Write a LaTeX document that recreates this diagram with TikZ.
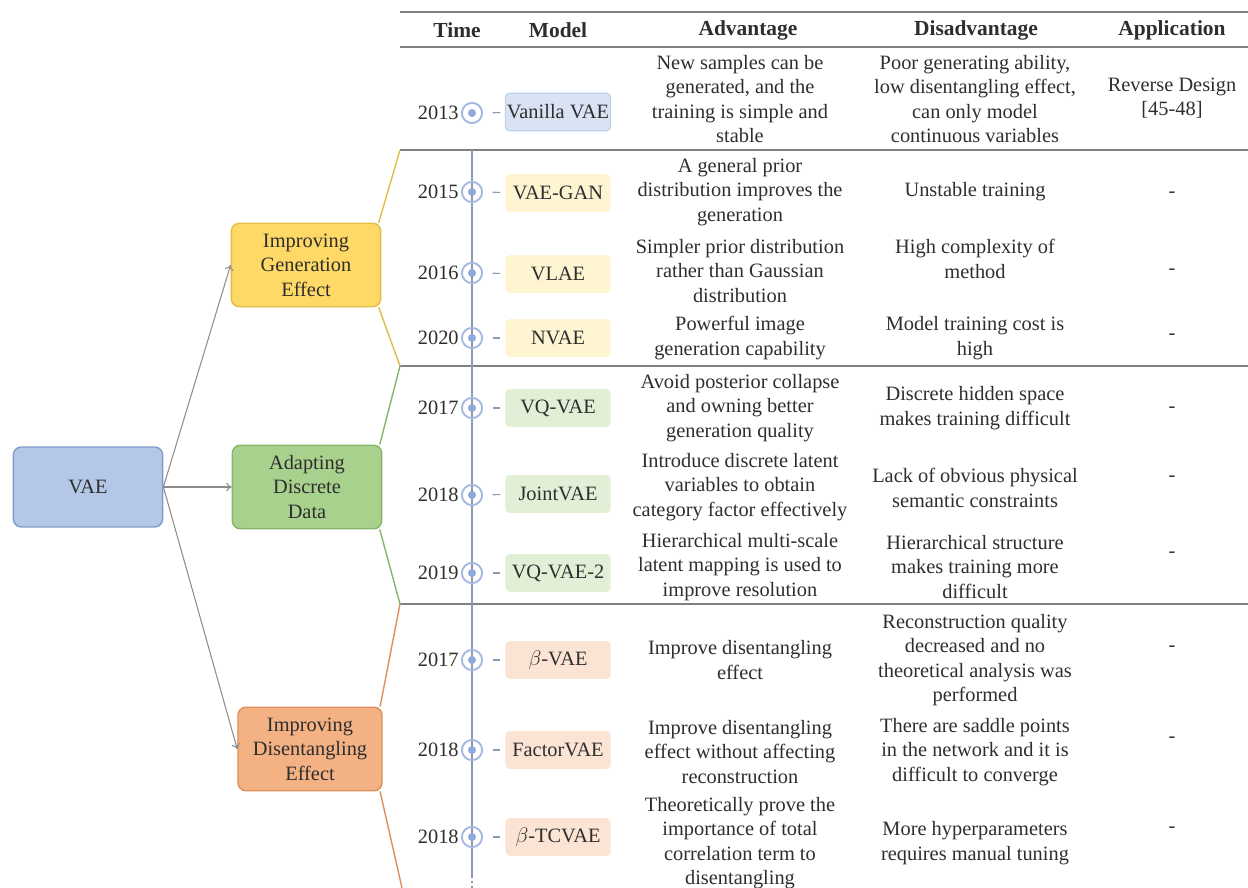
\documentclass[tikz,border=0pt]{standalone}
\usepackage{fontspec}
\setmainfont{Liberation Serif}
\usetikzlibrary{arrows.meta}

\definecolor{txt}{HTML}{2E2E2E}
\definecolor{rulegray}{HTML}{808080}
\definecolor{arrgray}{HTML}{8C8C8C}
\definecolor{vaefill}{HTML}{B4C7E7}
\definecolor{vaeedge}{HTML}{7F9ACB}
\definecolor{genfill}{HTML}{FFD966}
\definecolor{genedge}{HTML}{E2BC45}
\definecolor{disfill}{HTML}{A9D18E}
\definecolor{disedge}{HTML}{86B56A}
\definecolor{entfill}{HTML}{F4B183}
\definecolor{entedge}{HTML}{DE8F5E}
\definecolor{ringblue}{HTML}{A4B8E0}
\definecolor{dotblue}{HTML}{8EA9DB}
\definecolor{tlline}{HTML}{8C99B3}

\tikzset{
  catbox/.style={draw, line width=0.8pt, rounded corners=4.5pt, minimum width=85pt, minimum height=47.5pt, align=center, inner sep=1pt},
  modelbox/.style={rounded corners=2.5pt, minimum width=60pt, minimum height=21.5pt, inner sep=1pt, line width=0.5pt},
  ring/.style={circle, draw=ringblue, line width=1.1pt, minimum size=11.5pt, inner sep=0pt,
    path picture={\fill[dotblue] (path picture bounding box.center) circle (2.3pt);}},
  cell/.style={align=center, inner sep=0pt},
  head/.style={font=\fontsize{12.2}{14}\selectfont\bfseries},
  arr/.style={arrgray, line width=0.6pt, -{To[length=3pt, width=5pt]}},
  tick/.style={tlline, line width=0.6pt, shorten <=5.5pt, shorten >=2.5pt}
}

\begin{document}
\begin{tikzpicture}[x=0.02cm, y=-0.02cm, font=\fontsize{11.6}{13.9}\selectfont, text=txt]
    \useasboundingbox (0,0) rectangle (1248,888);

    \draw[rulegray, line width=1.1pt] (400,12) -- (1248,12);
    \draw[rulegray, line width=1.1pt] (400,47) -- (1248,47);
    \coordinate (r1) at (400,150); \coordinate (r2) at (400,366); \coordinate (r3) at (400,604);
    \coordinate (rend) at (402,888);
    \draw[rulegray, line width=1.3pt] (r1) -- (1248,150);
    \draw[rulegray, line width=1.3pt] (r2) -- (1248,366);
    \draw[rulegray, line width=1.3pt] (r3) -- (1248,604);

    \node[head] (hTime) at (457,30) {Time};
    \node[head] (hModel) at (558,30) {Model};
    \node[head] (hAdv) at (748,30) {Advantage};
    \node[head] (hDis) at (976,30) {Disadvantage};
    \node[head] (hApp) at (1172,30) {Application};

    % left tree
    \node[catbox, fill=vaefill, draw=vaeedge, minimum width=85pt, minimum height=45.5pt] (vae) at (88,487) {VAE};
    \node[catbox, fill=genfill, draw=genedge] (gen) at (306,265) {Improving\\Generation\\Effect};
    \node[catbox, fill=disfill, draw=disedge] (dis) at (307,487) {Adapting\\Discrete\\Data};
    \node[catbox, fill=entfill, draw=entedge, minimum width=82pt] (ent) at (310,749) {Improving\\Disentangling\\Effect};
    \draw[arr] (vae.east) -- (gen.west);
    \draw[arr] (vae.east) -- (dis.west);
    \draw[arr] (vae.east) -- (ent.west);

    \draw[genedge, line width=0.8pt] ([xshift=-1.5pt]gen.north east) -- (r1);
    \draw[genedge, line width=0.8pt] ([xshift=-1.5pt]gen.south east) -- (r2);
    \draw[disedge, line width=0.8pt] ([xshift=-1.5pt]dis.north east) -- (r2);
    \draw[disedge, line width=0.8pt] ([xshift=-1.5pt]dis.south east) -- (r3);
    \draw[entedge, line width=0.8pt] ([xshift=-1.5pt]ent.north east) -- (r3);
    \draw[entedge, line width=0.8pt] ([xshift=-1.5pt]ent.south east) -- (rend);

    % timeline
    \coordinate (tltop) at (472,150); \coordinate (tlend) at (472,876); \coordinate (tlbot) at (472,888);
    \draw[tlline, line width=0.9pt] (tltop) -- (tlend);
    \draw[tlline, line width=0.9pt, dotted] (tlend) -- (tlbot);

    \node[ring] (t1) at (472,113) {}; \node[anchor=east, inner sep=0pt] (y1) at (459,113) {2013};
    \node[modelbox, fill=vaefill!50, draw=vaefill] (m1) at (558,112) {Vanilla VAE};
    \node[ring] (t2) at (472,192) {}; \node[anchor=east, inner sep=0pt] (y2) at (459,192) {2015};
    \node[modelbox, fill=genfill!30] (m2) at (558,193) {VAE-GAN};
    \node[ring] (t3) at (472,273) {}; \node[anchor=east, inner sep=0pt] (y3) at (459,273) {2016};
    \node[modelbox, fill=genfill!30] (m3) at (558,274) {VLAE};
    \node[ring] (t4) at (472,338) {}; \node[anchor=east, inner sep=0pt] (y4) at (459,338) {2020};
    \node[modelbox, fill=genfill!30] (m4) at (558,338) {NVAE};
    \node[ring] (t5) at (472,408) {}; \node[anchor=east, inner sep=0pt] (y5) at (459,408) {2017};
    \node[modelbox, fill=disfill!35] (m5) at (558,408) {VQ-VAE};
    \node[ring] (t6) at (472,495) {}; \node[anchor=east, inner sep=0pt] (y6) at (459,495) {2018};
    \node[modelbox, fill=disfill!35] (m6) at (558,494) {JointVAE};
    \node[ring] (t7) at (472,573) {}; \node[anchor=east, inner sep=0pt] (y7) at (459,573) {2019};
    \node[modelbox, fill=disfill!35] (m7) at (558,573) {VQ-VAE-2};
    \node[ring] (t8) at (472,660) {}; \node[anchor=east, inner sep=0pt] (y8) at (459,660) {2017};
    \node[modelbox, fill=entfill!35] (m8) at (558,660) {$\beta$-VAE};
    \node[ring] (t9) at (472,750) {}; \node[anchor=east, inner sep=0pt] (y9) at (459,750) {2018};
    \node[modelbox, fill=entfill!35] (m9) at (558,750) {FactorVAE};
    \node[ring] (t10) at (472,837) {}; \node[anchor=east, inner sep=0pt] (y10) at (459,837) {2018};
    \node[modelbox, fill=entfill!35] (m10) at (558,837) {$\beta$-TCVAE};
    \draw[tick] (t1) -- (m1); \draw[tick] (t2) -- (m2); \draw[tick] (t3) -- (m3);
    \draw[tick] (t4) -- (m4); \draw[tick] (t5) -- (m5); \draw[tick] (t6) -- (m6);
    \draw[tick] (t7) -- (m7); \draw[tick] (t8) -- (m8); \draw[tick] (t9) -- (m9);
    \draw[tick] (t10) -- (m10);

    % advantage
    \node[cell] (a1) at (740,99) {New samples can be\\generated, and the\\training is simple and\\stable};
    \node[cell] (a2) at (740,192) {A general prior\\distribution improves the\\generation};
    \node[cell] (a3) at (740,271) {Simpler prior distribution\\rather than Gaussian\\distribution};
    \node[cell] (a4) at (740,338) {Powerful image\\generation capability};
    \node[cell] (a5) at (740,408) {Avoid posterior collapse\\and owning better\\generation quality};
    \node[cell] (a6) at (740,487) {Introduce discrete latent\\variables to obtain\\category factor effectively};
    \node[cell] (a7) at (740,567) {Hierarchical multi-scale\\latent mapping is used to\\improve resolution};
    \node[cell] (a8) at (740,660) {Improve disentangling\\effect};
    \node[cell] (a9) at (740,752) {Improve disentangling\\effect without affecting\\reconstruction};
    \node[cell] (a10) at (740,843) {Theoretically prove the\\importance of total\\correlation term to\\disentangling};

    % disadvantage
    \node[cell] (d1) at (975,99) {Poor generating ability,\\low disentangling effect,\\can only model\\continuous variables};
    \node[cell] (d2) at (975,192) {Unstable training};
    \node[cell] (d3) at (975,259) {High complexity of\\method};
    \node[cell] (d4) at (975,338) {Model training cost is\\high};
    \node[cell] (d5) at (975,408) {Discrete hidden space\\makes training difficult};
    \node[cell] (d6) at (975,488) {Lack of obvious physical\\semantic constraints};
    \node[cell] (d7) at (975,567) {Hierarchical structure\\makes training more\\difficult};
    \node[cell] (d8) at (975,660) {Reconstruction quality\\decreased and no\\theoretical analysis was\\performed};
    \node[cell] (d9) at (975,752) {There are saddle points\\in the network and it is\\difficult to converge};
    \node[cell] (d10) at (975,843) {More hyperparameters\\requires manual tuning};

    % application
    \node[cell] (p1) at (1172,98) {Reverse Design\\{[45-48]}};
    \node[cell] (p2) at (1172,195) {-}; \node[cell] (p3) at (1172,272) {-};
    \node[cell] (p4) at (1172,337) {-}; \node[cell] (p5) at (1172,410) {-};
    \node[cell] (p6) at (1172,479) {-}; \node[cell] (p7) at (1172,555) {-};
    \node[cell] (p8) at (1172,649) {-}; \node[cell] (p9) at (1172,740) {-};
    \node[cell] (p10) at (1172,830) {-};
\end{tikzpicture}
\end{document}
